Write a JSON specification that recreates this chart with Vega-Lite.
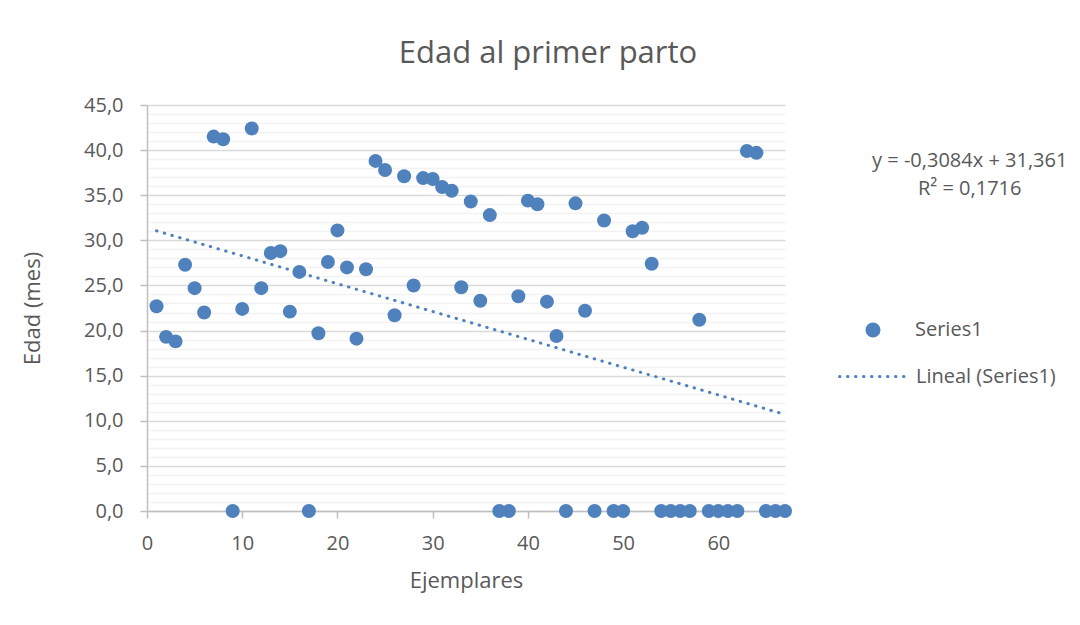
{
  "$schema": "https://vega.github.io/schema/vega-lite/v6.json",
  "width": 638,
  "height": 406,
  "autosize": {"type": "none"},
  "padding": {"left": 147, "top": 105, "right": 295, "bottom": 114},
  "background": "white",
  "config": {
    "font": "Open Sans",
    "view": {"stroke": null}
  },
  "title": {
    "text": "Edad al primer parto",
    "font": "Open Sans",
    "fontSize": 31,
    "fontWeight": "normal",
    "color": "#595959",
    "anchor": "middle",
    "frame": "group",
    "dx": 82,
    "baseline": "alphabetic",
    "offset": 1
  },
  "datasets": {
    "puntos": [
      {"ejemplar": 1, "edad": 22.7}, {"ejemplar": 2, "edad": 19.3}, {"ejemplar": 3, "edad": 18.8},
      {"ejemplar": 4, "edad": 27.3}, {"ejemplar": 5, "edad": 24.7}, {"ejemplar": 6, "edad": 22.0},
      {"ejemplar": 7, "edad": 41.5}, {"ejemplar": 8, "edad": 41.2}, {"ejemplar": 9, "edad": 0},
      {"ejemplar": 10, "edad": 22.4}, {"ejemplar": 11, "edad": 42.4}, {"ejemplar": 12, "edad": 24.7},
      {"ejemplar": 13, "edad": 28.6}, {"ejemplar": 14, "edad": 28.8}, {"ejemplar": 15, "edad": 22.1},
      {"ejemplar": 16, "edad": 26.5}, {"ejemplar": 17, "edad": 0}, {"ejemplar": 18, "edad": 19.7},
      {"ejemplar": 19, "edad": 27.6}, {"ejemplar": 20, "edad": 31.1}, {"ejemplar": 21, "edad": 27.0},
      {"ejemplar": 22, "edad": 19.1}, {"ejemplar": 23, "edad": 26.8}, {"ejemplar": 24, "edad": 38.8},
      {"ejemplar": 25, "edad": 37.8}, {"ejemplar": 26, "edad": 21.7}, {"ejemplar": 27, "edad": 37.1},
      {"ejemplar": 28, "edad": 25.0}, {"ejemplar": 29, "edad": 36.9}, {"ejemplar": 30, "edad": 36.8},
      {"ejemplar": 31, "edad": 35.9}, {"ejemplar": 32, "edad": 35.5}, {"ejemplar": 33, "edad": 24.8},
      {"ejemplar": 34, "edad": 34.3}, {"ejemplar": 35, "edad": 23.3}, {"ejemplar": 36, "edad": 32.8},
      {"ejemplar": 37, "edad": 0}, {"ejemplar": 38, "edad": 0}, {"ejemplar": 39, "edad": 23.8},
      {"ejemplar": 40, "edad": 34.4}, {"ejemplar": 41, "edad": 34.0}, {"ejemplar": 42, "edad": 23.2},
      {"ejemplar": 43, "edad": 19.4}, {"ejemplar": 44, "edad": 0}, {"ejemplar": 45, "edad": 34.1},
      {"ejemplar": 46, "edad": 22.2}, {"ejemplar": 47, "edad": 0}, {"ejemplar": 48, "edad": 32.2},
      {"ejemplar": 49, "edad": 0}, {"ejemplar": 50, "edad": 0}, {"ejemplar": 51, "edad": 31.0},
      {"ejemplar": 52, "edad": 31.4}, {"ejemplar": 53, "edad": 27.4}, {"ejemplar": 54, "edad": 0},
      {"ejemplar": 55, "edad": 0}, {"ejemplar": 56, "edad": 0}, {"ejemplar": 57, "edad": 0},
      {"ejemplar": 58, "edad": 21.2}, {"ejemplar": 59, "edad": 0}, {"ejemplar": 60, "edad": 0},
      {"ejemplar": 61, "edad": 0}, {"ejemplar": 62, "edad": 0}, {"ejemplar": 63, "edad": 39.9},
      {"ejemplar": 64, "edad": 39.7}, {"ejemplar": 65, "edad": 0}, {"ejemplar": 66, "edad": 0},
      {"ejemplar": 67, "edad": 0}
    ],
    "tendencia": [
      {"ejemplar": 1, "edad": 31.05},
      {"ejemplar": 67, "edad": 10.70}
    ],
    "ecuacion": [
      {"texto": ["y = -0,3084x + 31,361", "R² = 0,1716"]}
    ]
  },
  "layer": [
    {
      "data": {"name": "puntos"},
      "mark": {"type": "point", "filled": true, "shape": "circle", "size": 195, "color": "#4f81bd", "opacity": 1, "strokeWidth": 0},
      "encoding": {
        "x": {
          "field": "ejemplar", "type": "quantitative",
          "scale": {"domain": [0, 67], "nice": false, "zero": false},
          "axis": {
            "title": "Ejemplares",
            "values": [0, 10, 20, 30, 40, 50, 60],
            "tickCount": 20,
            "grid": false,
            "zindex": 0,
            "domainColor": "#bfbfbf", "domainWidth": 1.5,
            "tickColor": "#bfbfbf", "tickWidth": 1.5, "tickSize": 7,
            "labelFont": "Open Sans", "labelFontSize": 20, "labelColor": "#595959", "labelPadding": 15,
            "labelFlush": false,
            "titleFont": "Open Sans", "titleFontSize": 22, "titleFontWeight": "normal", "titleColor": "#595959", "titlePadding": 17
          }
        },
        "y": {
          "field": "edad", "type": "quantitative",
          "scale": {"domain": [0, 45], "nice": false},
          "axis": {
            "title": "Edad (mes)",
            "values": [0,1,2,3,4,5,6,7,8,9,10,11,12,13,14,15,16,17,18,19,20,21,22,23,24,25,26,27,28,29,30,31,32,33,34,35,36,37,38,39,40,41,42,43,44,45],
            "tickCount": 100,
            "labelExpr": "datum.value % 5 == 0 ? replace(format(datum.value, '.1f'), '.', ',') : ''",
            "labelOverlap": false,
            "labelFlush": false,
            "grid": true,
            "gridColor": {"condition": {"test": "datum.value % 5 == 0", "value": "#d9d9d9"}, "value": "#f2f2f2"},
            "gridWidth": 1.5,
            "zindex": 0,
            "domainColor": "#bfbfbf", "domainWidth": 1.5,
            "tickColor": "#bfbfbf", "tickWidth": 1.5, "tickSize": 7,
            "tickOpacity": {"condition": {"test": "datum.value % 5 == 0", "value": 1}, "value": 0},
            "labelFont": "Open Sans", "labelFontSize": 20, "labelColor": "#595959", "labelPadding": 17,
            "titleFont": "Open Sans", "titleFontSize": 22, "titleFontWeight": "normal", "titleColor": "#595959", "titlePadding": 39
          }
        },
        "shape": {
          "datum": "Series1",
          "scale": {"domain": ["Series1"], "range": ["circle"]},
          "legend": {
            "orient": "none",
            "legendX": 716,
            "legendY": 215,
            "title": null,
            "symbolSize": 227,
            "symbolFillColor": "#4f81bd",
            "symbolStrokeWidth": 0,
            "symbolOpacity": 1,
            "labelFont": "Open Sans",
            "labelFontSize": 20,
            "labelColor": "#595959",
            "labelOffset": 32
          }
        }
      }
    },
    {
      "data": {"name": "tendencia"},
      "mark": {"type": "line", "color": "#4f81bd", "strokeWidth": 3, "strokeCap": "round"},
      "encoding": {
        "x": {"field": "ejemplar", "type": "quantitative"},
        "y": {"field": "edad", "type": "quantitative"},
        "strokeDash": {
          "datum": "Lineal (Series1)",
          "scale": {"domain": ["Lineal (Series1)"], "range": [[0.5, 7.5]]},
          "legend": {
            "orient": "none",
            "legendX": 691,
            "legendY": 235,
            "title": null,
            "symbolType": "stroke",
            "symbolSize": 4900,
            "symbolStrokeColor": "#4f81bd",
            "symbolStrokeWidth": 3,
            "symbolDash": [0.5, 7.5],
            "labelFont": "Open Sans",
            "labelFontSize": 20,
            "labelColor": "#595959",
            "labelOffset": 5,
            "encode": {"symbols": {"update": {"strokeCap": {"value": "round"}}}}
          }
        }
      }
    },
    {
      "data": {"name": "ecuacion"},
      "mark": {"type": "text", "font": "Open Sans", "fontSize": 20, "color": "#595959", "align": "center", "baseline": "alphabetic", "lineHeight": 28},
      "encoding": {
        "text": {"field": "texto"},
        "x": {"datum": 86.4},
        "y": {"datum": 38.1}
      }
    }
  ]
}
